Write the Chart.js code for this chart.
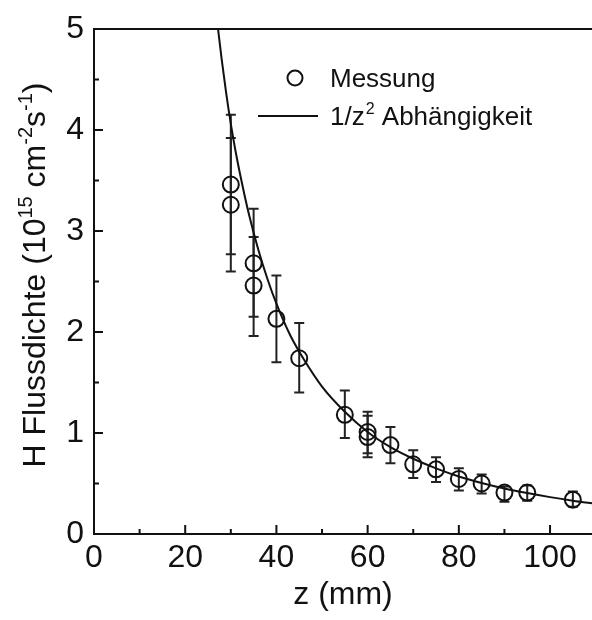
<!DOCTYPE html>
<html>
<head>
<meta charset="utf-8">
<script src="https://cdn.jsdelivr.net/npm/chart.js@4.4.1/dist/chart.umd.min.js"></script>
<style>
  html, body { margin: 0; padding: 0; background: #fff; }
</style>
</head>
<body>
<canvas id="fluxChart" width="592" height="620"></canvas>
<script>
// Messpunkte: z in mm, H Flussdichte in 1e15 cm^-2 s^-1
const zValues    = [30, 30, 35, 35, 40, 45, 55, 60, 60, 65, 70, 75, 80, 85, 90, 95, 105];
const fluxValues = [3.46, 3.26, 2.68, 2.46, 2.13, 1.74, 1.18, 1.01, 0.96, 0.88, 0.69, 0.64, 0.545, 0.50, 0.41, 0.41, 0.34];
const fluxUpper  = [4.15, 3.92, 3.22, 2.94, 2.56, 2.09, 1.42, 1.21, 1.17, 1.06, 0.83, 0.76, 0.65, 0.59, 0.47, 0.48, 0.42];
const fluxLower  = [2.77, 2.60, 2.15, 1.96, 1.70, 1.40, 0.95, 0.80, 0.76, 0.70, 0.555, 0.515, 0.43, 0.40, 0.32, 0.33, 0.27];

// 1/z^2 Kurve
const curveZ = [27.2, 28, 29, 30, 31, 32, 34, 36, 38, 40, 43, 46, 50, 55, 60, 65, 70, 75, 80, 85, 90, 95, 100, 105, 110];
const curveH = [5.0, 4.70, 4.36, 4.06, 3.80, 3.57, 3.16, 2.82, 2.53, 2.28, 1.97, 1.73, 1.46, 1.21, 1.01, 0.86, 0.745, 0.65, 0.57, 0.505, 0.45, 0.405, 0.365, 0.33, 0.30];

// Achsen
const xMajor = [0, 20, 40, 60, 80, 100];
const xMinor = [10, 30, 50, 70, 90];
const yMajor = [0, 1, 2, 3, 4, 5];
const yMinor = [0.5, 1.5, 2.5, 3.5, 4.5];

const FONT = 'Liberation Sans, Arial, sans-serif';
const INK = '#111';

const decor = {
    id: 'decor',
    beforeDatasetsDraw(chart) {
        // error bars
        const { ctx, scales: { x, y } } = chart;
        ctx.save();
        ctx.strokeStyle = '#222';
        ctx.lineWidth = 2;
        zValues.forEach((z, i) => {
            const px = x.getPixelForValue(z);
            const top = y.getPixelForValue(fluxUpper[i]);
            const bot = y.getPixelForValue(fluxLower[i]);
            ctx.beginPath();
            ctx.moveTo(px, top); ctx.lineTo(px, bot);
            ctx.moveTo(px - 5, top); ctx.lineTo(px + 5, top);
            ctx.moveTo(px - 5, bot); ctx.lineTo(px + 5, bot);
            ctx.stroke();
        });
        ctx.restore();
    },
    afterDraw(chart) {
        const { ctx, chartArea: area, scales: { x, y } } = chart;
        ctx.save();
        ctx.strokeStyle = INK;
        ctx.lineWidth = 2;

        // top frame line
        ctx.beginPath();
        ctx.moveTo(area.left - 1, area.top);
        ctx.lineTo(area.right, area.top);
        ctx.stroke();

        // inward ticks
        ctx.beginPath();
        xMajor.forEach(v => { const p = x.getPixelForValue(v); ctx.moveTo(p, area.bottom); ctx.lineTo(p, area.bottom - 9); });
        xMinor.forEach(v => { const p = x.getPixelForValue(v); ctx.moveTo(p, area.bottom); ctx.lineTo(p, area.bottom - 5); });
        yMajor.forEach(v => { const p = y.getPixelForValue(v); ctx.moveTo(area.left, p); ctx.lineTo(area.left + 9, p); });
        yMinor.forEach(v => { const p = y.getPixelForValue(v); ctx.moveTo(area.left, p); ctx.lineTo(area.left + 5, p); });
        ctx.stroke();

        // y title with superscripts
        const parts = [['H Flussdichte (10', false], ['15', true], [' cm', false], ['-2', true], ['s', false], ['-1', true], [')', false]];
        const big = '32px ' + FONT, small = '20px ' + FONT;
        let total = 0;
        parts.forEach(([t, sup]) => { ctx.font = sup ? small : big; total += ctx.measureText(t).width; });
        ctx.translate(45, 275);
        ctx.rotate(-Math.PI / 2);
        ctx.fillStyle = INK;
        ctx.textBaseline = 'alphabetic';
        ctx.textAlign = 'left';
        let cx = -total / 2;
        parts.forEach(([t, sup]) => {
            ctx.font = sup ? small : big;
            ctx.fillText(t, cx, sup ? -13 : 0);
            cx += ctx.measureText(t).width;
        });
        ctx.setTransform(1, 0, 0, 1, 0, 0);

        // legend
        ctx.lineWidth = 2;
        ctx.beginPath();
        ctx.arc(295, 78, 7.5, 0, Math.PI * 2);
        ctx.stroke();
        ctx.beginPath();
        ctx.moveTo(258, 116);
        ctx.lineTo(318, 116);
        ctx.stroke();
        ctx.font = '26px ' + FONT;
        ctx.fillText('Messung', 330, 87);
        ctx.fillText('1/z', 330, 125);
        let lx = 330 + ctx.measureText('1/z').width;
        ctx.font = '16px ' + FONT;
        ctx.fillText('2', lx + 1, 114);
        lx += ctx.measureText('2').width + 1;
        ctx.font = '26px ' + FONT;
        ctx.fillText(' Abhängigkeit', lx, 125);
        ctx.restore();
    }
};

new Chart(document.getElementById('fluxChart').getContext('2d'), {
    type: 'scatter',
    data: {
        datasets: [
            {
                label: 'Messung',
                data: zValues.map((z, i) => ({ x: z, y: fluxValues[i] })),
                pointStyle: 'circle',
                pointRadius: 8,
                borderWidth: 2,
                borderColor: INK,
                backgroundColor: 'rgba(0,0,0,0)',
                showLine: false,
            },
            {
                label: '1/z2 Abhängigkeit',
                data: curveZ.map((z, i) => ({ x: z, y: curveH[i] })),
                showLine: true,
                pointRadius: 0,
                borderWidth: 2,
                borderColor: INK,
                cubicInterpolationMode: 'monotone',
            },
        ],
    },
    options: {
        responsive: false,
        animation: false,
        devicePixelRatio: 1,
        layout: { autoPadding: false, padding: { top: 29, right: 0, bottom: 0, left: 0 } },
        plugins: {
            legend: { display: false },
            tooltip: { enabled: false },
        },
        scales: {
            x: {
                type: 'linear',
                min: 0,
                max: 109.2,
                ticks: {
                    stepSize: 20,
                    includeBounds: false,
                    maxRotation: 0,
                    padding: 5,
                    color: INK,
                    font: { family: FONT, size: 32 },
                },
                grid: { display: false, drawTicks: false },
                border: { display: true, color: INK, width: 2 },
                title: {
                    display: true,
                    text: 'z (mm)',
                    color: INK,
                    font: { family: FONT, size: 32 },
                    padding: { top: 0, bottom: 6 },
                },
                afterFit(scale) {
                    scale.height = 86;
                    scale.paddingLeft = 0;
                    scale.paddingRight = 0;
                },
            },
            y: {
                min: 0,
                max: 5,
                ticks: {
                    stepSize: 1,
                    padding: 10,
                    color: INK,
                    font: { family: FONT, size: 32 },
                },
                grid: { display: false, drawTicks: false },
                border: { display: true, color: INK, width: 2 },
                afterFit(scale) {
                    scale.width = 94;
                    scale.paddingTop = 0;
                    scale.paddingBottom = 0;
                },
            },
        },
    },
    plugins: [decor],
});
</script>
</body>
</html>
